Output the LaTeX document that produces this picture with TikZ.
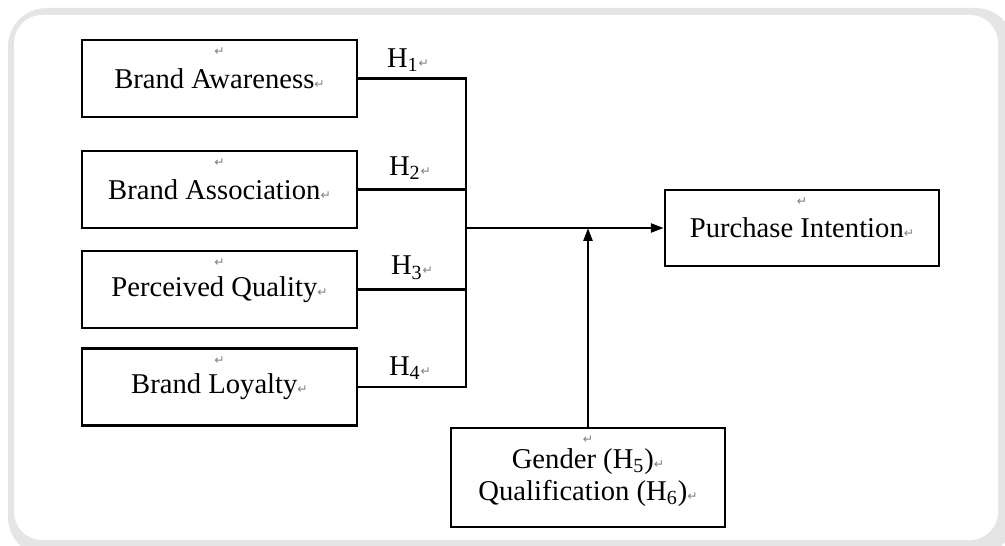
\documentclass[tikz,border=0pt]{standalone}
\usepackage{fontspec}
\setmainfont{Liberation Serif}
\newfontfamily\markfont{DejaVu Sans}
\usetikzlibrary{arrows.meta,positioning}
\definecolor{framegray}{RGB}{229,229,229}
\newcommand{\retmark}{{\markfont\fontsize{7}{7}\selectfont\color{gray}↵}}

\begin{document}
\begin{tikzpicture}[x=0.02cm, y=-0.02cm,
      construct/.style={draw, line width=1.4pt, minimum width=5.5cm, minimum height=1.54cm,
        font=\fontsize{16.3}{18.2}\selectfont, align=center,
        label={[anchor=north, inner sep=0pt, yshift=-5pt]north:\retmark}},
      hyp/.style={font=\fontsize{16.3}{18.2}\selectfont, inner sep=0pt},
      link/.style={line width=1.4pt},
      >={Triangle[length=2.6mm, width=1.8mm]}]
    \useasboundingbox (0,0) rectangle (1005,546);
    % frame
    \fill[white] (0,0) rectangle (1005,546);
    \fill[framegray, rounded corners=22] (8,8) rectangle (1014,556);
    \fill[white, rounded corners=16] (14,15) rectangle (998,540);
    % left constructs
    \foreach \i/\t/\y in {1/Brand Awareness/78.5,2/Brand Association/189.5,
                          3/Perceived Quality/289.5,4/Brand Loyalty/387}
      \node[construct] (c\i) at (219.5,\y) {\t\retmark};
    \coordinate (jn) at (466,228);
    \node[construct, minimum width=5.48cm, minimum height=1.52cm] (pi) at (802,228) {Purchase Intention\retmark};
    \node[construct, line width=1.1pt, minimum width=5.48cm, minimum height=1.98cm] (mod) at (588,477.5)
      {Gender (H\textsubscript{5})\retmark\\Qualification (H\textsubscript{6})\retmark};
    % hypothesis labels
    \foreach \i/\x/\y in {1/408/60,2/410/168,3/412/268,4/410/368}
      \node[hyp] (h\i) at (\x,\y) {H\textsubscript{\i}\retmark};
    % links
    \foreach \i in {1,...,4}
      \draw[link] (c\i.east) -| (jn);
    \draw[link, ->] (jn) -- (pi.west);
    \draw[link, ->] (mod.north) -- (mod.north |- jn);
  \end{tikzpicture}
\end{document}
